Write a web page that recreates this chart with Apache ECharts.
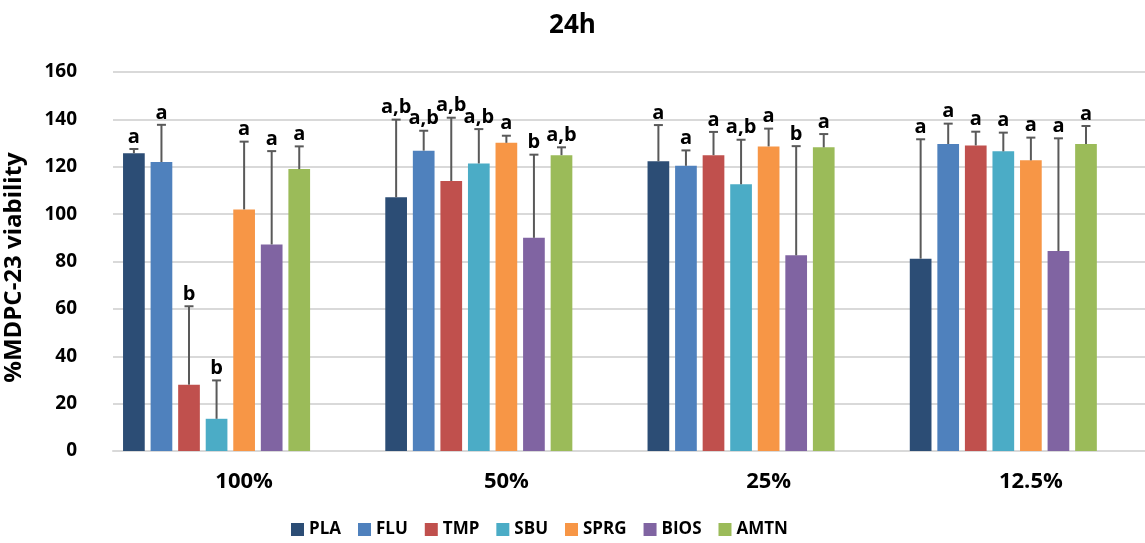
<!DOCTYPE html>
<html>
<head>
<meta charset="utf-8">
<script src="https://cdn.jsdelivr.net/npm/echarts@6/dist/echarts.min.js"></script>
<style>html,body{margin:0;padding:0;background:#fff}#c{width:1145px;height:543px}</style>
</head>
<body>
<div id="c"></div>
<script>
const categories = ['100%', '50%', '25%', '12.5%'];
const seriesNames = ['PLA', 'FLU', 'TMP', 'SBU', 'SPRG', 'BIOS', 'AMTN'];
const colors = ['#2C4D75', '#4F81BD', '#C0504D', '#4BACC6', '#F79646', '#8064A2', '#9BBB59'];
// mean values per series, one per category
const PLA  = [125.7, 107.1, 122.3, 81.2];
const FLU  = [122.0, 126.8, 120.4, 129.6];
const TMP  = [28.0, 114.0, 124.9, 129.0];
const SBU  = [13.6, 121.4, 112.6, 126.5];
const SPRG = [102.0, 130.1, 128.6, 122.7];
const BIOS = [87.2, 90.0, 82.6, 84.4];
const AMTN = [119.0, 124.9, 128.2, 129.6];
// upper end of error bars
const PLA_err  = [127.5, 139.9, 137.6, 131.6];
const FLU_err  = [137.7, 135.2, 126.9, 138.2];
const TMP_err  = [61.1, 140.7, 134.7, 134.8];
const SBU_err  = [29.8, 135.9, 131.4, 134.4];
const SPRG_err = [130.6, 133.1, 136.1, 132.3];
const BIOS_err = [126.6, 125.1, 128.7, 132.0];
const AMTN_err = [128.6, 128.2, 133.8, 137.2];
// significance letters
const PLA_sig  = ['a', 'a,b', 'a', 'a'];
const FLU_sig  = ['a', 'a,b', 'a', 'a'];
const TMP_sig  = ['b', 'a,b', 'a', 'a'];
const SBU_sig  = ['b', 'a,b', 'a,b', 'a'];
const SPRG_sig = ['a', 'a', 'a', 'a'];
const BIOS_sig = ['a', 'b', 'b', 'a'];
const AMTN_sig = ['a', 'a,b', 'a', 'a'];
const yTicks = [0, 20, 40, 60, 80, 100, 120, 140, 160];

const means = [PLA, FLU, TMP, SBU, SPRG, BIOS, AMTN];
const errs = [PLA_err, FLU_err, TMP_err, SBU_err, SPRG_err, BIOS_err, AMTN_err];
const sigs = [PLA_sig, FLU_sig, TMP_sig, SBU_sig, SPRG_sig, BIOS_sig, AMTN_sig];

const FONT = '"Open Sans", Lato, sans-serif';
const BAR_W = 21.7;
const BAR_GAP = 0.27;
const SLOTS = 9; // 7 series + 2 empty slots as in the original layout
const STEP = BAR_W * (1 + BAR_GAP);

const series = [];
means.forEach((vals, i) => {
  series.push({
    name: seriesNames[i], type: 'bar', data: vals,
    barWidth: BAR_W, barGap: (BAR_GAP * 100) + '%',
    itemStyle: { color: colors[i] }, z: 2
  });
});
for (let k = 0; k < SLOTS - 7; k++) {
  series.push({ name: '_empty' + k, type: 'bar', data: categories.map(() => null), barWidth: BAR_W, barGap: (BAR_GAP * 100) + '%' });
}
means.forEach((vals, i) => {
  const data = vals.map((v, c) => [c, v, errs[i][c], sigs[i][c]]);
  series.push({
    type: 'custom', name: seriesNames[i] + '_err', z: 5, silent: true,
    data: data,
    encode: { x: 0, y: [1, 2] },
    renderItem: function (params, api) {
      const c = api.value(0);
      const top = api.coord([c, api.value(2)]);
      const base = api.coord([c, api.value(1)]);
      const x = top[0] + (i - (SLOTS - 1) / 2) * STEP;
      const style = { stroke: '#595959', lineWidth: 2 };
      return {
        type: 'group',
        children: [
          { type: 'line', shape: { x1: x, y1: base[1], x2: x, y2: top[1] }, style: style },
          { type: 'line', shape: { x1: x - 4.5, y1: top[1], x2: x + 4.5, y2: top[1] }, style: style },
          { type: 'text', style: { x: x, y: top[1] - 2, text: data[params.dataIndex][3], fill: '#000', font: 'bold 20px ' + FONT, textAlign: 'center', textVerticalAlign: 'bottom' } }
        ]
      };
    }
  });
});

const chart = echarts.init(document.getElementById('c'), null, { renderer: 'canvas' });
chart.setOption({
  animation: false,
  title: { text: '24h', left: 'center', top: 8, textStyle: { fontFamily: FONT, fontWeight: 'bold', fontSize: 26, color: '#000' } },
  legend: {
    data: seriesNames, left: 291, top: 521, padding: 0, icon: 'rect', itemWidth: 13, itemHeight: 13, itemGap: 17,
    textStyle: { fontFamily: FONT, fontWeight: 'bold', fontSize: 17, color: '#000' }
  },
  grid: { left: 113, right: -17, top: 72, bottom: 92, containLabel: false, outerBoundsMode: 'none' },
  xAxis: {
    type: 'category', data: categories,
    axisLine: { lineStyle: { color: '#D9D9D9', width: 2 } },
    axisTick: { show: false },
    axisLabel: { margin: 20, fontFamily: FONT, fontWeight: 'bold', fontSize: 22, color: '#000' }
  },
  yAxis: {
    type: 'value', min: yTicks[0], max: yTicks[yTicks.length - 1], interval: 20,
    name: '%MDPC-23 viability', nameLocation: 'middle', nameGap: 87, nameRotate: 90,
    nameTextStyle: { fontFamily: FONT, fontWeight: 'bold', fontSize: 24, color: '#000', padding: [0, 12, 0, 0] },
    axisLine: { show: false }, axisTick: { show: false },
    axisLabel: { margin: 36, fontFamily: FONT, fontWeight: 'bold', fontSize: 19, color: '#000' },
    splitLine: { lineStyle: { color: '#D9D9D9', width: 2 } }
  },
  series: series
});
</script>
</body>
</html>
